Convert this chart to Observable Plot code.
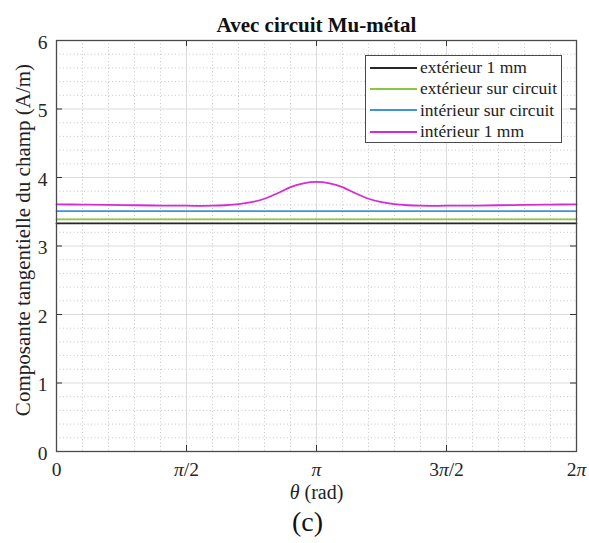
<!DOCTYPE html>
<html>
<head>
<meta charset="utf-8">
<script src="https://cdn.jsdelivr.net/npm/d3@7"></script>
<script src="https://cdn.jsdelivr.net/npm/@observablehq/plot@0.6"></script>
<style>
  html, body { margin: 0; padding: 0; background: #fff; }
  #wrap { position: relative; width: 589px; height: 543px; font-family: "Liberation Serif", "Times New Roman", serif; }
  #legend { position: absolute; left: 365px; top: 55px; width: 197px; height: 88px; border: 1.3px solid #4a4a4a; background: #fff; box-sizing: border-box; padding-top: 1px; }
  .row { display: flex; align-items: center; height: 21.3px; font-size: 17.5px; color: #222; white-space: nowrap; }
  .sw { width: 47px; height: 2px; margin-left: 4px; margin-right: 3px; flex: none; }
</style>
</head>
<body>
<div id="wrap"></div>
<script>
// ---------- data ----------
const chartTitle = "Avec circuit Mu-métal";
const yLabel = "Composante tangentielle du champ (A/m)";
const xLabel = "θ (rad)";
const caption = "(c)";

const seriesNames = ["extérieur 1 mm", "extérieur sur circuit", "intérieur sur circuit", "intérieur 1 mm"];
const seriesColors = ["#262626", "#8cc63f", "#3f92db", "#d62ad6"];

// theta in units of pi
const flatThetaPi = [0, 0.25, 0.5, 0.75, 1, 1.25, 1.5, 1.75, 2];
const ext1mm      = [3.33, 3.33, 3.33, 3.33, 3.33, 3.33, 3.33, 3.33, 3.33];
const extCircuit  = [3.39, 3.39, 3.39, 3.39, 3.39, 3.39, 3.39, 3.39, 3.39];
const intCircuit  = [3.51, 3.51, 3.51, 3.51, 3.51, 3.51, 3.51, 3.51, 3.51];

const int1mmThetaPi = [0, 0.1, 0.2, 0.3, 0.4, 0.5, 0.55, 0.6, 0.65, 0.7, 0.75, 0.8, 0.85, 0.9, 0.95, 1.0,
                       1.05, 1.1, 1.15, 1.2, 1.25, 1.3, 1.35, 1.4, 1.45, 1.5, 1.6, 1.7, 1.8, 1.9, 2.0];
const int1mm = [3.607, 3.605, 3.600, 3.595, 3.590, 3.588, 3.587, 3.588, 3.595, 3.610, 3.640, 3.690, 3.770, 3.860, 3.915, 3.935,
                3.915, 3.860, 3.770, 3.690, 3.640, 3.610, 3.595, 3.588, 3.587, 3.588, 3.590, 3.595, 3.600, 3.605, 3.607];

const xTickPi = [0, 0.5, 1, 1.5, 2];
const xTickLabels = ["0", "π/2", "π", "3π/2", "2π"];
const yTicks = [0, 1, 2, 3, 4, 5, 6];
const yTickLabels = ["0", "1", "2", "3", "4", "5", "6"];

// ---------- build ----------
const PI = Math.PI;
const rows = [];
const flatSeries = [ext1mm, extCircuit, intCircuit];
flatSeries.forEach((arr, s) => arr.forEach((v, i) => rows.push({series: seriesNames[s], theta: flatThetaPi[i] * PI, value: v})));
int1mm.forEach((v, i) => rows.push({series: seriesNames[3], theta: int1mmThetaPi[i] * PI, value: v}));

const xMajor = xTickPi.map(d => d * PI);
const xMinor = d3.range(0, 21).filter(k => k % 5 !== 0).map(k => k * PI / 10);
const yMinor = d3.range(0, 31).filter(k => k % 5 !== 0).map(k => k / 5);

const fmtX = d => xTickLabels[Math.round(d / (PI / 2))];

const chart = Plot.plot({
  width: 589,
  height: 543,
  marginLeft: 56,
  marginRight: 13,
  marginTop: 40,
  marginBottom: 92,
  style: {fontFamily: "Liberation Serif, Times New Roman, serif", fontSize: "19px", background: "#fff", color: "#262626"},
  x: {domain: [0, 2 * PI]},
  y: {domain: [0, 6]},
  color: {domain: seriesNames, range: seriesColors},
  marks: [
    Plot.gridX(xMinor, {stroke: "#c8c8c8", strokeOpacity: 1, strokeDasharray: "1,2.5"}),
    Plot.gridY(yMinor, {stroke: "#c8c8c8", strokeOpacity: 1, strokeDasharray: "1,2.5"}),
    Plot.gridX(xMajor, {stroke: "#dcdcdc", strokeOpacity: 1}),
    Plot.gridY(yTicks, {stroke: "#dcdcdc", strokeOpacity: 1}),
    Plot.line(rows, {x: "theta", y: "value", z: "series", stroke: "series", strokeWidth: 1.8, curve: "catmull-rom"}),
    Plot.tickX(xMajor, {x: d => d, insetTop: 405, stroke: "#333", strokeWidth: 1}),
    Plot.tickX(xMajor, {x: d => d, insetBottom: 405, stroke: "#333", strokeWidth: 1}),
    Plot.tickY(yTicks, {y: d => d, insetRight: 514, stroke: "#333", strokeWidth: 1}),
    Plot.tickY(yTicks, {y: d => d, insetLeft: 514, stroke: "#333", strokeWidth: 1}),
    Plot.frame({stroke: "#4a4a4a", strokeWidth: 1.3}),
    Plot.axisX(xMajor, {tickSize: 0, tickPadding: 11, tickFormat: fmtX, label: null, fontSize: 19.5}),
    Plot.axisY(yTicks, {tickSize: 0, tickPadding: 9, tickFormat: d => yTickLabels[d], label: null, fontSize: 19.5, dy: 2}),
    Plot.text([chartTitle], {frameAnchor: "top", lineAnchor: "middle", dy: -15, fontWeight: "bold", fontSize: 21, fill: "#111"}),
    Plot.text([yLabel], {frameAnchor: "left", textAnchor: "middle", lineAnchor: "middle", rotate: -90, dx: -33, dy: -6, fontSize: 21, fill: "#222"}),
    Plot.text([xLabel], {frameAnchor: "bottom", lineAnchor: "middle", dy: 41, fontSize: 20, fill: "#222"}),
    Plot.text([caption], {frameAnchor: "bottom", lineAnchor: "middle", dx: -9, dy: 71, fontSize: 28, fill: "#111"})
  ]
});

const wrap = document.getElementById("wrap");
wrap.appendChild(chart);

// italic pi / theta
d3.select(chart).selectAll("text").each(function () {
  const t = this.textContent;
  if (/[πθ]/.test(t) && this.childElementCount === 0) {
    const sel = d3.select(this);
    sel.text(null);
    for (const ch of t) {
      const sp = sel.append("tspan").text(ch);
      if (ch === "π" || ch === "θ") sp.attr("font-style", "italic");
    }
  }
});

// legend
const lg = document.createElement("div");
lg.id = "legend";
seriesNames.forEach((name, i) => {
  const r = document.createElement("div");
  r.className = "row";
  const sw = document.createElement("span");
  sw.className = "sw";
  sw.style.background = seriesColors[i];
  const tx = document.createElement("span");
  tx.textContent = name;
  r.appendChild(sw);
  r.appendChild(tx);
  lg.appendChild(r);
});
wrap.appendChild(lg);
</script>
</body>
</html>
